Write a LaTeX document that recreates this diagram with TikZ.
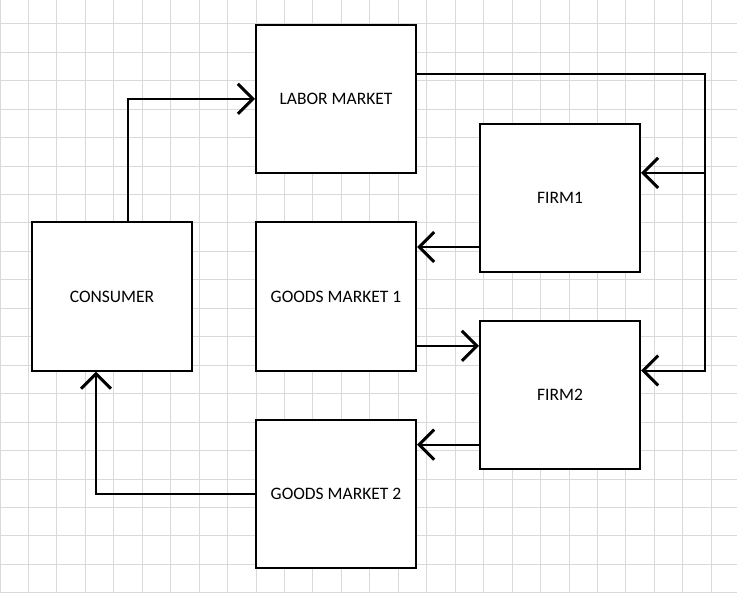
\documentclass[tikz,border=0pt]{standalone}
\usepackage{fontspec}
\setmainfont{Carlito}
\usepackage{tikz}
\usetikzlibrary{arrows.meta}
\def\rowh{24.7pt}
\def\colw{32pt}

\begin{document}
\begin{tikzpicture}
    [x=32pt, y=24.7pt,
 block/.style ={rectangle, draw=black, line width=2pt, fill=white, minimum width=160pt, minimum height=148.2pt, inner sep=0pt, font=\fontsize{17.5}{20}\selectfont},
 flow/.style ={draw, line width=2pt, -{Straight Barb[length=15pt, width=30pt, line width=3pt]}},
 gridline/.style ={draw=black!15, line width=1pt}]
        \useasboundingbox (0,0) rectangle (23.03,24);
        \fill[white] (0,0) rectangle (23.03,24);
        \draw[gridline] (0,0) grid (23.03,24);
        \node[block] (labor) at (10.5, 20) {LABOR MARKET};
        \node[block] (consumer) at (3.5, 12) {CONSUMER};
        \node[block] (goods1) at (10.5, 12) {GOODS MARKET 1};
        \node[block] (goods2) at (10.5, 4) {GOODS MARKET 2};
        \node[block] (firm1) at (17.5, 16) {FIRM1};
        \node[block] (firm2) at (17.5, 8) {FIRM2};
        % labor market feeds both firms
        \coordinate (bus1) at ([xshift=2*\colw, yshift=\rowh]firm1.east);
        \coordinate (bus2) at ([xshift=2*\colw, yshift=\rowh]firm2.east);
        \draw[flow] ([xshift=0.5*\colw]consumer.north) |- (labor.west);
        \draw[flow] ([yshift=\rowh]labor.east) -| (bus2) -- ([yshift=\rowh]firm2.east);
        \draw[flow] (bus1) -- ([yshift=\rowh]firm1.east);
        % firms to goods markets
        \coordinate (f1out) at ([yshift=-2*\rowh]firm1.west);
        \draw[flow] (f1out) -- (f1out -| goods1.east);
        \coordinate (g1out) at ([yshift=-2*\rowh]goods1.east);
        \draw[flow] (g1out) -- (g1out -| firm2.west);
        \coordinate (f2out) at ([yshift=-2*\rowh]firm2.west);
        \draw[flow] (f2out) -- (f2out -| goods2.east);
        \draw[flow] (goods2.west) -| ([xshift=-0.5*\colw]consumer.south);
    \end{tikzpicture}
\end{document}
